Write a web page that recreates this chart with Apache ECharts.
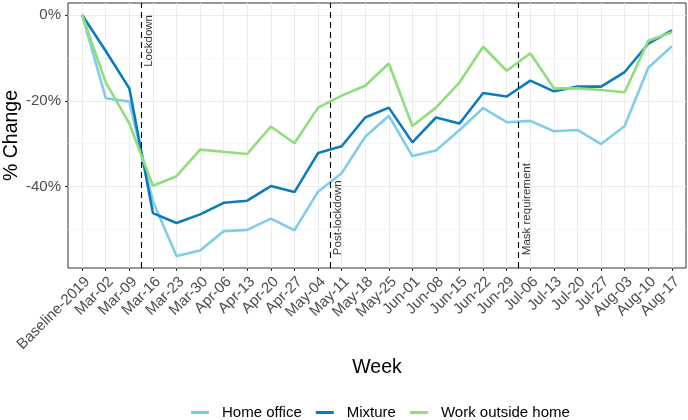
<!DOCTYPE html>
<html>
<head>
<meta charset="utf-8">
<script src="https://cdn.jsdelivr.net/npm/echarts@6/dist/echarts.min.js"></script>
<style>html,body{margin:0;padding:0;background:#fff}#c{width:688px;height:420px}</style>
</head>
<body>
<div id="c"></div>
<script>
var categories = ["Baseline-2019","Mar-02","Mar-09","Mar-16","Mar-23","Mar-30","Apr-06","Apr-13","Apr-20","Apr-27","May-04","May-11","May-18","May-25","Jun-01","Jun-08","Jun-15","Jun-22","Jun-29","Jul-06","Jul-13","Jul-20","Jul-27","Aug-03","Aug-10","Aug-17"];
var homeOffice = [0,-19.4,-20.2,-43.5,-56.2,-54.9,-50.4,-50.1,-47.5,-50.2,-41.2,-36.9,-28.4,-23.5,-32.9,-31.6,-26.8,-21.7,-25.0,-24.7,-27.1,-26.8,-30.1,-25.9,-12.3,-7.3];
var mixture = [0,-8.4,-17.1,-46.2,-48.5,-46.5,-43.8,-43.3,-39.9,-41.3,-32.2,-30.6,-23.9,-21.6,-29.7,-23.9,-25.3,-18.2,-19.0,-15.3,-17.8,-16.7,-16.7,-13.3,-6.7,-3.6];
var workOutside = [0,-15.7,-25.3,-39.8,-37.6,-31.4,-31.9,-32.4,-26.0,-29.9,-21.6,-18.8,-16.5,-11.3,-25.9,-21.6,-15.7,-7.4,-13.0,-8.9,-17.1,-17.1,-17.5,-18.0,-6.0,-4.0];
var seriesNames = ["Home office","Mixture","Work outside home"];
var yTicks = [-40,-20,0];
var yMinor = [-50,-30,-10];
var events = [{name:"Lockdown", x:2.5, y:0, align:"right"},{name:"Post-lockdown", x:10.5, y:-56, align:"left"},{name:"Mask requirement", x:18.5, y:-56, align:"left"}];

var idx = categories.map(function(_, i){return i;});
function pairs(arr){return arr.map(function(v,i){return [i,v];});}
var colors = ["#80CDE9","#0A7CBE","#8EDE7B"];
var FONT = "Liberation Sans";

var chart = echarts.init(document.getElementById('c'), null, {renderer:'canvas'});
var lineSeries = [homeOffice, mixture, workOutside].map(function(arr, k){
  return {
    name: seriesNames[k], type:'line', data: pairs(arr), symbol:'none', showSymbol:false,
    lineStyle:{width:2.6, color:colors[k]}, itemStyle:{color:colors[k]}, z: 3+k, animation:false
  };
});
lineSeries.push({
  name:'events', type:'scatter', symbolSize:0, z:6, animation:false, silent:true,
  data: events.map(function(e){return {value:[e.x,e.y], label:{align:e.align}};}),
  label:{show:true, position:'inside', rotate:90, verticalAlign:'top', padding:[2,0,0,0],
    formatter:function(p){return events[p.dataIndex].name;}, fontFamily:FONT, fontSize:11.5, color:'#000'},
  markLine:{silent:true, symbol:['none','none'], label:{show:false},
    lineStyle:{type:[6,4], color:'#000', width:1.1},
    data: events.map(function(e){return {xAxis:e.x};})}
});

chart.setOption({
  animation:false,
  grid:{left:68, right:2, top:3, bottom:152, show:true, borderColor:'#333333', borderWidth:1, backgroundColor:'transparent',
    containLabel:false, outerBoundsMode:'none'},
  legend:{data:seriesNames.map(function(n){return {name:n, icon:'rect'};}), top:400, left:186, itemWidth:18, itemHeight:3, itemGap:14,
    textStyle:{fontFamily:FONT, fontSize:15, color:'#000', padding:[0,0,0,8]}},
  xAxis:{type:'value', min:-0.6, max:25.6,
    name:'Week', nameLocation:'middle', nameGap:90, nameMoveOverlap:false, nameTextStyle:{fontFamily:FONT, fontSize:19.5, color:'#000'},
    axisLine:{show:false, onZero:false},
    axisTick:{show:true, customValues:idx, length:3, lineStyle:{color:'#333333'}},
    axisLabel:{customValues:idx, rotate:45, margin:6, align:'right', verticalAlign:'top', fontFamily:FONT, fontSize:15, color:'#4D4D4D',
      formatter:function(v){return categories[Math.round(v)];}},
    splitLine:{show:true, lineStyle:{color:'#EBEBEB', width:1.07}}},
  yAxis:[{type:'value', min:-59.0, max:2.8,
    name:'% Change', nameLocation:'middle', nameGap:46, nameMoveOverlap:false, nameTextStyle:{fontFamily:FONT, fontSize:19.5, color:'#000'},
    axisLine:{show:false, onZero:false},
    axisTick:{show:true, customValues:yTicks, length:3, lineStyle:{color:'#333333'}},
    axisLabel:{customValues:yTicks, margin:7, fontFamily:FONT, fontSize:15, color:'#4D4D4D',
      formatter:function(v){return Math.round(v)+'%';}},
    splitLine:{show:true, lineStyle:{color:'#EBEBEB', width:1.07}}},
   {type:'value', min:-59.0, max:2.8, position:'left',
    axisLine:{show:false, onZero:false}, axisTick:{show:false, customValues:yMinor}, axisLabel:{show:false, customValues:yMinor},
    splitLine:{show:true, lineStyle:{color:'#F2F2F2', width:0.6}}}],
  series: lineSeries
});
</script>
</body>
</html>
